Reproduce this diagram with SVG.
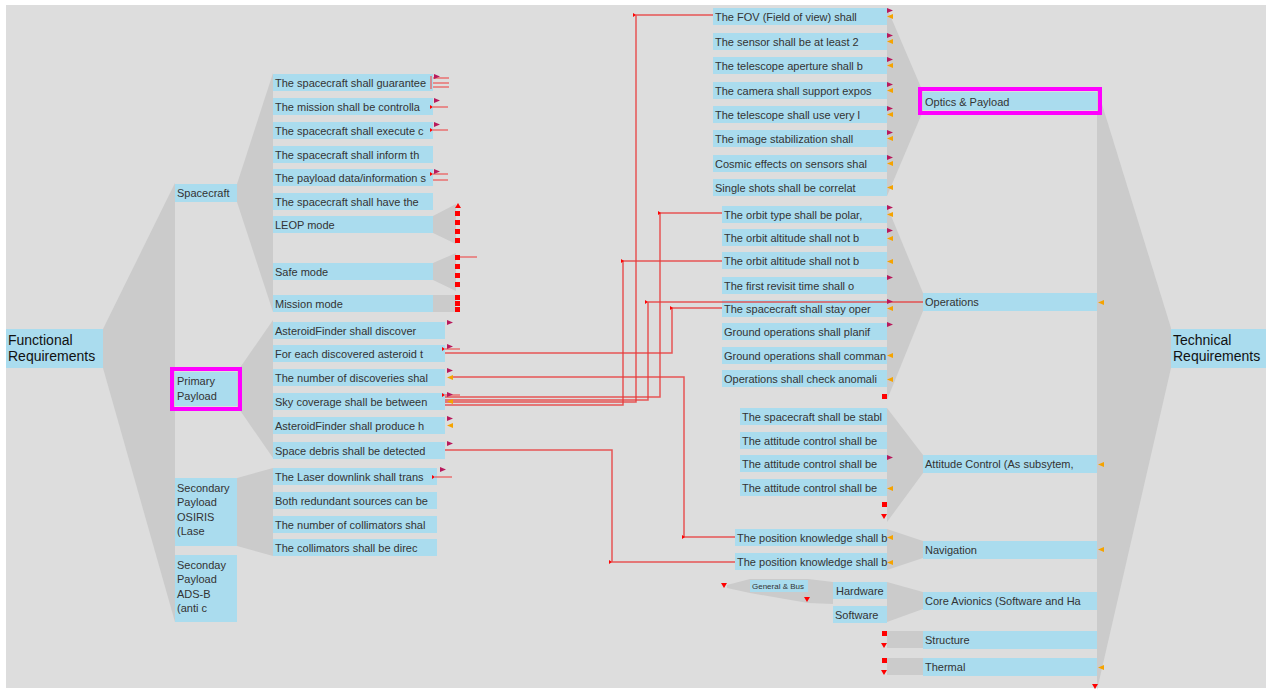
<svg xmlns="http://www.w3.org/2000/svg" xmlns:xlink="http://www.w3.org/1999/xlink" width="1274" height="691" viewBox="0 0 1274 691">
<style>
text{font-family:"Liberation Sans",Arial,sans-serif;font-size:11px;fill:#333}
.big{font-size:14px;fill:#111}
.sm{font-size:8px}
.box{fill:#aadcee}
.fan{fill:#cbcbcb}
.hl{fill:none;stroke:#ff00ff;stroke-width:4}
.con{fill:none;stroke:#e83c3c;stroke-width:1.5;stroke-opacity:.85}
.stub{fill:none;stroke:#ee5555;stroke-width:1.5;stroke-opacity:.8}
</style>
<defs>
<polygon id="cr" points="0,0 6,2.5 0,5" fill="#b8195c"/>
<polygon id="or" points="6,0 0,2.5 6,5" fill="#f5a300"/>
<rect id="sq" width="5" height="5" fill="#ff0000"/>
<polygon id="dn" points="0,0 6,0 3,5" fill="#ff0000"/>
<polygon id="up" points="0,5 6,5 3,0" fill="#ff0000"/>
<polygon id="tk" points="0,0 3,2 0,4" fill="#ff0000"/>
</defs>
<rect x="0" y="0" width="1274" height="691" fill="#ffffff"/>
<rect x="6" y="5" width="1260" height="683" fill="#dddddd"/>

<g id="fans">
<polygon class="fan" points="103,329 175,183 175,622 103,368"/>
<polygon class="fan" points="237,184 273,73 273,312 237,202"/>
<polygon class="fan" points="237,372 273,320 273,458 237,406"/>
<polygon class="fan" points="237,478 273,468 273,556 237,546"/>
<polygon class="fan" points="433,216 456,204 456,244 433,233"/>
<polygon class="fan" points="433,263 456,253 456,291 433,280"/>
<rect class="fan" x="433" y="295" width="23" height="17"/>
<polygon class="fan" points="887,8 923,92 923,111 887,196"/>
<polygon class="fan" points="887,206 923,293 923,311 887,400"/>
<polygon class="fan" points="887,408 923,455 923,473 887,522"/>
<polygon class="fan" points="887,529 923,541 923,558 887,570"/>
<polygon class="fan" points="887,582 923,592 923,609 887,622"/>
<rect class="fan" x="887" y="631" width="36" height="17"/>
<rect class="fan" x="887" y="658" width="36" height="17"/>
<polygon class="fan" points="727,585 750,579 808,579 833,582 833,604 808,603 750,593 727,588"/>
<polygon class="fan" points="1097,88 1171,328 1171,368 1097,690"/>
</g>

<g id="n-functional"><rect class="box" x="6" y="329" width="97" height="39"/><text class="big" x="8" y="345">Functional</text><text class="big" x="8" y="361">Requirements</text></g>
<g id="n-technical"><rect class="box" x="1171" y="329" width="95" height="39"/><text class="big" x="1173" y="345">Technical</text><text class="big" x="1173" y="361">Requirements</text></g>

<g id="n-spacecraft"><rect class="box" x="175" y="184" width="62" height="18"/><text x="177" y="197">Spacecraft</text></g>
<g id="n-primary"><rect class="box" x="175" y="372" width="62" height="34"/><rect class="hl" x="172" y="369" width="68" height="40"/><text x="177" y="385">Primary</text><text x="177" y="400">Payload</text></g>
<g id="n-osiris"><rect class="box" x="175" y="478" width="62" height="68"/><text x="177" y="492">Secondary</text><text x="177" y="506">Payload</text><text x="177" y="521">OSIRIS</text><text x="177" y="535">(Lase</text></g>
<g id="n-adsb"><rect class="box" x="175" y="555" width="62" height="67"/><text x="177" y="569">Seconday</text><text x="177" y="583">Payload</text><text x="177" y="598">ADS-B</text><text x="177" y="612">(anti c</text></g>

<g id="n-sc1"><rect class="box" x="273" y="74" width="160" height="17"/><text x="275" y="87">The spacecraft shall guarantee</text></g>
<g id="n-sc2"><rect class="box" x="273" y="98" width="160" height="17"/><text x="275" y="111">The mission shall be controlla</text></g>
<g id="n-sc3"><rect class="box" x="273" y="122" width="160" height="17"/><text x="275" y="135">The spacecraft shall execute c</text></g>
<g id="n-sc4"><rect class="box" x="273" y="146" width="160" height="17"/><text x="275" y="159">The spacecraft shall inform th</text></g>
<g id="n-sc5"><rect class="box" x="273" y="169" width="160" height="17"/><text x="275" y="182">The payload data/information s</text></g>
<g id="n-sc6"><rect class="box" x="273" y="193" width="160" height="17"/><text x="275" y="206">The spacecraft shall have the</text></g>
<g id="n-leop"><rect class="box" x="273" y="216" width="160" height="17"/><text x="275" y="229">LEOP mode</text></g>
<g id="n-safe"><rect class="box" x="273" y="263" width="160" height="17"/><text x="275" y="276">Safe mode</text></g>
<g id="n-mission"><rect class="box" x="273" y="295" width="160" height="17"/><text x="275" y="308">Mission mode</text></g>

<g id="n-pp1"><rect class="box" x="273" y="322" width="172" height="17"/><text x="275" y="335">AsteroidFinder shall discover</text></g>
<g id="n-pp2"><rect class="box" x="273" y="345" width="172" height="17"/><text x="275" y="358">For each discovered asteroid t</text></g>
<g id="n-pp3"><rect class="box" x="273" y="369" width="172" height="17"/><text x="275" y="382">The number of discoveries shal</text></g>
<g id="n-pp4"><rect class="box" x="273" y="393" width="172" height="17"/><text x="275" y="406">Sky coverage shall be between</text></g>
<g id="n-pp5"><rect class="box" x="273" y="417" width="172" height="17"/><text x="275" y="430">AsteroidFinder shall produce h</text></g>
<g id="n-pp6"><rect class="box" x="273" y="442" width="172" height="17"/><text x="275" y="455">Space debris shall be detected</text></g>

<g id="n-os1"><rect class="box" x="273" y="468" width="164" height="17"/><text x="275" y="481">The Laser downlink shall trans</text></g>
<g id="n-os2"><rect class="box" x="273" y="492" width="164" height="17"/><text x="275" y="505">Both redundant sources can be</text></g>
<g id="n-os3"><rect class="box" x="273" y="516" width="164" height="17"/><text x="275" y="529">The number of collimators shal</text></g>
<g id="n-os4"><rect class="box" x="273" y="539" width="164" height="17"/><text x="275" y="552">The collimators shall be direc</text></g>

<g id="n-op1"><rect class="box" x="713" y="8" width="174" height="17"/><text x="715" y="21">The FOV (Field of view) shall</text></g>
<g id="n-op2"><rect class="box" x="713" y="33" width="174" height="17"/><text x="715" y="46">The sensor shall be at least 2</text></g>
<g id="n-op3"><rect class="box" x="713" y="57" width="174" height="17"/><text x="715" y="70">The telescope aperture shall b</text></g>
<g id="n-op4"><rect class="box" x="713" y="82" width="174" height="17"/><text x="715" y="95">The camera shall support expos</text></g>
<g id="n-op5"><rect class="box" x="713" y="106" width="174" height="17"/><text x="715" y="119">The telescope shall use very l</text></g>
<g id="n-op6"><rect class="box" x="713" y="130" width="174" height="17"/><text x="715" y="143">The image stabilization shall</text></g>
<g id="n-op7"><rect class="box" x="713" y="155" width="174" height="17"/><text x="715" y="168">Cosmic effects on sensors shal</text></g>
<g id="n-op8"><rect class="box" x="713" y="179" width="174" height="17"/><text x="715" y="192">Single shots shall be correlat</text></g>

<g id="n-ops1"><rect class="box" x="722" y="206" width="165" height="17"/><text x="724" y="219">The orbit type shall be polar,</text></g>
<g id="n-ops2"><rect class="box" x="722" y="229" width="165" height="17"/><text x="724" y="242">The orbit altitude shall not b</text></g>
<g id="n-ops3"><rect class="box" x="722" y="252" width="165" height="17"/><text x="724" y="265">The orbit altitude shall not b</text></g>
<g id="n-ops4"><rect class="box" x="722" y="277" width="165" height="17"/><text x="724" y="290">The first revisit time shall o</text></g>
<g id="n-ops5"><rect class="box" x="722" y="300" width="165" height="17"/><text x="724" y="313">The spacecraft shall stay oper</text></g>
<g id="n-ops6"><rect class="box" x="722" y="323" width="165" height="17"/><text x="724" y="336">Ground operations shall planif</text></g>
<g id="n-ops7"><rect class="box" x="722" y="347" width="165" height="17"/><text x="724" y="360">Ground operations shall comman</text></g>
<g id="n-ops8"><rect class="box" x="722" y="370" width="165" height="17"/><text x="724" y="383">Operations shall check anomali</text></g>

<g id="n-ac1"><rect class="box" x="740" y="408" width="147" height="17"/><text x="742" y="421">The spacecraft shall be stabl</text></g>
<g id="n-ac2"><rect class="box" x="740" y="432" width="147" height="17"/><text x="742" y="445">The attitude control shall be</text></g>
<g id="n-ac3"><rect class="box" x="740" y="455" width="147" height="17"/><text x="742" y="468">The attitude control shall be</text></g>
<g id="n-ac4"><rect class="box" x="740" y="479" width="147" height="17"/><text x="742" y="492">The attitude control shall be</text></g>

<g id="n-nav1"><rect class="box" x="735" y="529" width="152" height="17"/><text x="737" y="542">The position knowledge shall b</text></g>
<g id="n-nav2"><rect class="box" x="735" y="553" width="152" height="17"/><text x="737" y="566">The position knowledge shall b</text></g>

<g id="n-genbus"><rect class="box" x="750" y="580" width="58" height="12"/><text class="sm" x="752" y="589">General &amp; Bus</text></g>
<g id="n-hardware"><rect class="box" x="833" y="582" width="54" height="17"/><text x="836" y="595">Hardware</text></g>
<g id="n-software"><rect class="box" x="833" y="606" width="54" height="17"/><text x="835" y="619">Software</text></g>

<g id="n-optics"><rect class="box" x="923" y="92" width="174" height="18"/><rect class="hl" x="920" y="89" width="180" height="24"/><text x="925" y="106">Optics &amp; Payload</text></g>
<g id="n-operations"><rect class="box" x="923" y="293" width="174" height="18"/><text x="925" y="306">Operations</text></g>
<g id="n-attitude"><rect class="box" x="923" y="455" width="174" height="18"/><text x="925" y="468">Attitude Control (As subsytem,</text></g>
<g id="n-navigation"><rect class="box" x="923" y="541" width="174" height="18"/><text x="925" y="554">Navigation</text></g>
<g id="n-core"><rect class="box" x="923" y="592" width="174" height="18"/><text x="925" y="605">Core Avionics (Software and Ha</text></g>
<g id="n-structure"><rect class="box" x="923" y="631" width="174" height="18"/><text x="925" y="644">Structure</text></g>
<g id="n-thermal"><rect class="box" x="923" y="658" width="174" height="18"/><text x="925" y="671">Thermal</text></g>

<g id="connectors">
<polyline class="con" points="713,15 636,15 636,402 445,402"/>
<polyline class="con" points="722,213 660,213 660,397 445,397"/>
<polyline class="con" points="722,261 623,261 623,405 445,405"/>
<polyline class="con" points="923,302 648,302 648,400 445,400"/>
<polyline class="con" points="722,308 672,308 672,353 445,353"/>
<polyline class="con" points="452,377 684,377 684,537 735,537"/>
<polyline class="con" points="445,450 612,450 612,562 735,562"/>
<line class="stub" x1="433" y1="78" x2="449" y2="78"/>
<line class="stub" x1="433" y1="83" x2="449" y2="83"/>
<line class="stub" x1="433" y1="87" x2="449" y2="87"/>
<line class="stub" x1="431" y1="76" x2="431" y2="89"/>
<line class="stub" x1="433" y1="107" x2="448" y2="107"/>
<line class="stub" x1="433" y1="130" x2="448" y2="130"/>
<line class="stub" x1="433" y1="174" x2="448" y2="174"/>
<line class="stub" x1="433" y1="180" x2="448" y2="180"/>
<line class="stub" x1="458" y1="257" x2="477" y2="257"/>
<line class="stub" x1="445" y1="349" x2="460" y2="349"/>
<line class="stub" x1="445" y1="395" x2="460" y2="395"/>
<line class="stub" x1="435" y1="477" x2="452" y2="477"/>
<use href="#tk" x="633" y="13"/>
<use href="#tk" x="658" y="211"/>
<use href="#tk" x="621" y="259"/>
<use href="#tk" x="645" y="300"/>
<use href="#tk" x="670" y="306"/>
<use href="#tk" x="682" y="535"/>
<use href="#tk" x="609" y="560"/>
<use href="#tk" x="430" y="105"/>
<use href="#tk" x="430" y="128"/>
<use href="#tk" x="430" y="172"/>
<use href="#tk" x="442" y="347"/>
<use href="#tk" x="442" y="393"/>
<use href="#tk" x="432" y="475"/>
</g>

<g id="markers">
<use href="#cr" x="434" y="74"/><use href="#cr" x="434" y="98"/><use href="#cr" x="434" y="122"/><use href="#cr" x="434" y="169"/>
<use href="#cr" x="447" y="320"/><use href="#cr" x="447" y="344"/><use href="#cr" x="447" y="368"/><use href="#cr" x="447" y="392"/><use href="#cr" x="447" y="416"/><use href="#cr" x="447" y="441"/><use href="#cr" x="440" y="467"/>
<use href="#or" x="447" y="375"/><use href="#or" x="447" y="399"/><use href="#or" x="447" y="423"/>
<use href="#up" x="455" y="203"/><use href="#sq" x="455" y="211"/><use href="#sq" x="455" y="220"/><use href="#sq" x="455" y="229"/><use href="#sq" x="455" y="238"/>
<use href="#sq" x="455" y="255"/><use href="#sq" x="455" y="264"/><use href="#sq" x="455" y="273"/><use href="#sq" x="455" y="282"/>
<use href="#sq" x="455" y="295"/><use href="#sq" x="455" y="301"/><use href="#sq" x="455" y="307"/>
<use href="#cr" x="887" y="8"/><use href="#cr" x="887" y="33"/><use href="#cr" x="887" y="57"/><use href="#cr" x="887" y="82"/><use href="#cr" x="887" y="106"/><use href="#cr" x="887" y="130"/><use href="#cr" x="887" y="155"/>
<use href="#or" x="887" y="14"/><use href="#or" x="887" y="39"/><use href="#or" x="887" y="63"/><use href="#or" x="887" y="88"/><use href="#or" x="887" y="112"/><use href="#or" x="887" y="136"/><use href="#or" x="887" y="161"/><use href="#or" x="887" y="185"/>
<use href="#cr" x="887" y="205"/><use href="#cr" x="887" y="228"/><use href="#cr" x="887" y="275"/><use href="#cr" x="887" y="299"/><use href="#cr" x="887" y="322"/>
<use href="#or" x="887" y="212"/><use href="#or" x="887" y="236"/><use href="#or" x="887" y="259"/><use href="#or" x="887" y="306"/><use href="#or" x="887" y="353"/><use href="#or" x="887" y="377"/>
<use href="#sq" x="882" y="394"/>
<use href="#cr" x="887" y="455"/><use href="#or" x="887" y="486"/>
<use href="#sq" x="882" y="502"/><use href="#dn" x="881" y="514"/>
<use href="#or" x="887" y="535"/><use href="#or" x="887" y="560"/>
<use href="#dn" x="721" y="583"/><use href="#dn" x="804" y="597"/>
<use href="#sq" x="882" y="631"/><use href="#dn" x="881" y="643"/>
<use href="#sq" x="882" y="658"/><use href="#dn" x="881" y="670"/>
<use href="#or" x="1098" y="300"/><use href="#or" x="1098" y="462"/><use href="#or" x="1098" y="547"/><use href="#or" x="1098" y="665"/>
<use href="#dn" x="1092" y="684"/>
</g>
</svg>
